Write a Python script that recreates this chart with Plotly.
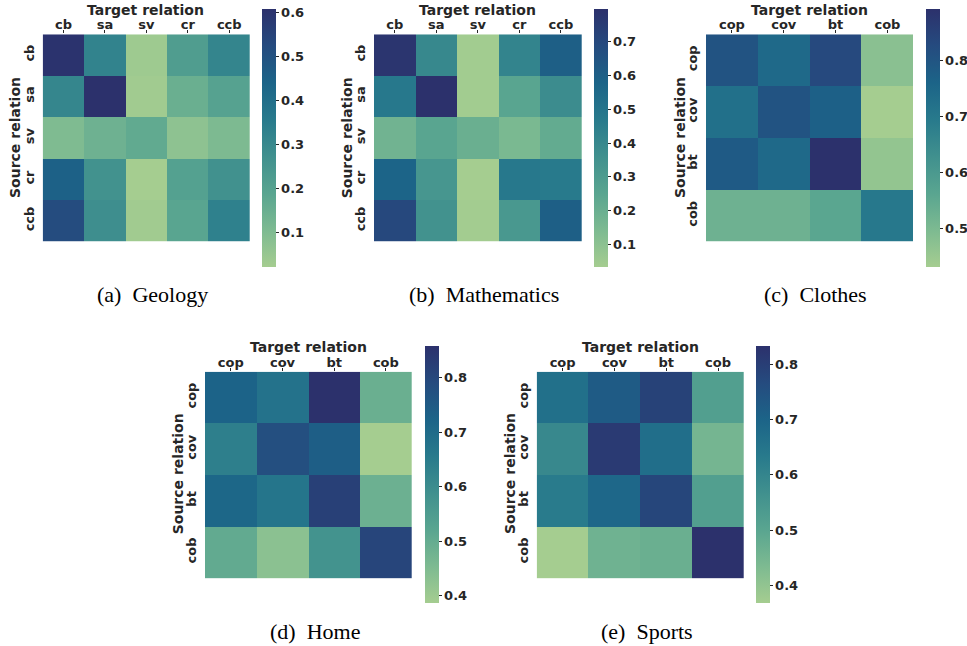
import plotly.graph_objects as go

# ---------------- data ----------------
rel5 = ["cb", "sa", "sv", "cr", "ccb"]
rel4 = ["cop", "cov", "bt", "cob"]

geology = [
    [0.600, 0.320, 0.035, 0.220, 0.315],
    [0.310, 0.607, 0.030, 0.150, 0.200],
    [0.100, 0.140, 0.170, 0.070, 0.105],
    [0.450, 0.265, 0.021, 0.205, 0.270],
    [0.520, 0.280, 0.030, 0.190, 0.330],
]
mathematics = [
    [0.780, 0.400, 0.040, 0.420, 0.600],
    [0.480, 0.797, 0.040, 0.250, 0.380],
    [0.180, 0.250, 0.200, 0.150, 0.220],
    [0.580, 0.330, 0.033, 0.480, 0.470],
    [0.700, 0.350, 0.038, 0.320, 0.600],
]
clothes = [
    [0.805, 0.745, 0.830, 0.475],
    [0.725, 0.805, 0.770, 0.431],
    [0.785, 0.745, 0.891, 0.460],
    [0.525, 0.525, 0.560, 0.700],
]
home = [
    [0.725, 0.680, 0.858, 0.490],
    [0.640, 0.780, 0.740, 0.386],
    [0.715, 0.670, 0.820, 0.485],
    [0.505, 0.430, 0.580, 0.805],
]
sports = [
    [0.665, 0.725, 0.790, 0.520],
    [0.590, 0.810, 0.670, 0.450],
    [0.630, 0.690, 0.780, 0.520],
    [0.368, 0.460, 0.470, 0.833],
]
captions = ["(a)  Geology", "(b)  Mathematics", "(c)  Clothes", "(d)  Home", "(e)  Sports"]
x_title = "Target relation"
y_title = "Source relation"

# seaborn "crest" approximation
crest = [
    [0.0, "#a5cd90"],
    [0.143, "#7dba91"],
    [0.286, "#59a590"],
    [0.429, "#40908e"],
    [0.571, "#287a8c"],
    [0.714, "#1c6488"],
    [0.857, "#254b7f"],
    [1.0, "#2c316c"],
]

W, H = 967, 646
TXT = "#262626"
SANS = "DejaVu Sans"

# panel geometry in pixels:
# heatmap (left, right, top, bottom); colorbar (left, top, bottom); caption centre;
# x-title centre; y-title centre
panels = [
    (geology, rel5, (42.7, 250.0, 34.3, 241.7), (262, 9, 267), (152.8, 295), (145.5, 10), (15, 138)),
    (mathematics, rel5, (374.0, 581.7, 34.3, 241.7), (594, 9, 267), (484, 295), (477.5, 10), (347.3, 138)),
    (clothes, rel4, (706.0, 913.3, 34.3, 241.7), (926, 9, 267), (815.8, 295), (809.5, 10), (680, 138)),
    (home, rel4, (205.0, 411.7, 371.7, 578.3), (425, 346, 603.3), (315, 631.7), (308.5, 347), (178.3, 474)),
    (sports, rel4, (536.7, 744.0, 371.7, 578.3), (756, 346, 603.3), (647, 631.7), (640.5, 347), (510, 474)),
]

fig = go.Figure()
layout = dict(
    width=W, height=H,
    margin=dict(l=0, r=0, t=0, b=0, autoexpand=False),
    paper_bgcolor="white", plot_bgcolor="white",
    font=dict(family=SANS, color=TXT),
    showlegend=False,
    annotations=[],
)

for i, (z, labels, (l, r, t, b), (cbx, cbt, cbb), (capx, capy), (xtx, xty), (ytx, yty)) in enumerate(panels):
    n = i + 1
    xa = "x" if n == 1 else f"x{n}"
    ya = "y" if n == 1 else f"y{n}"
    fig.add_trace(go.Heatmap(
        z=z, x=labels, y=labels,
        colorscale=crest,
        xaxis=xa, yaxis=ya,
        xgap=0, ygap=0,
        colorbar=dict(
            x=cbx / W, xanchor="left", xref="paper",
            y=1 - (cbt + cbb) / 2 / H, yanchor="middle", yref="paper",
            len=(cbb - cbt) / H, lenmode="fraction",
            thickness=13.5, thicknessmode="pixels",
            xpad=0, ypad=0, outlinewidth=0,
            ticks="outside", ticklen=3, tickwidth=1, tickcolor=TXT,
            dtick=0.1, tick0=0, tickformat=".1f",
            tickfont=dict(family=SANS, size=13, color=TXT, weight=700),
        ),
        hoverinfo="skip",
    ))
    xkey = "xaxis" if n == 1 else f"xaxis{n}"
    ykey = "yaxis" if n == 1 else f"yaxis{n}"
    layout[xkey] = dict(
        domain=[l / W, r / W], anchor=ya, side="top", automargin=False,
        showgrid=False, zeroline=False, showline=False,
        ticks="outside", ticklen=3, tickwidth=1, tickcolor=TXT,
        ticklabelstandoff=-4,
        tickfont=dict(family=SANS, size=13, color=TXT, weight=700),
    )
    layout[ykey] = dict(
        domain=[1 - b / H, 1 - t / H], anchor=xa, automargin=False,
        autorange="reversed",
        showgrid=False, zeroline=False, showline=False,
        ticks="outside", ticklen=3, tickcolor="rgba(0,0,0,0)", tickangle=-90,
        tickfont=dict(family=SANS, size=13, color=TXT, weight=700),
    )
    layout["annotations"].append(dict(
        x=xtx / W, y=1 - xty / H, xref="paper", yref="paper",
        xanchor="center", yanchor="middle", showarrow=False,
        text=x_title,
        font=dict(family=SANS, size=14, color=TXT, weight=700),
    ))
    layout["annotations"].append(dict(
        x=ytx / W, y=1 - yty / H, xref="paper", yref="paper",
        xanchor="center", yanchor="middle", showarrow=False, textangle=-90,
        text=y_title,
        font=dict(family=SANS, size=14, color=TXT, weight=700),
    ))
    layout["annotations"].append(dict(
        x=capx / W, y=1 - capy / H, xref="paper", yref="paper",
        xanchor="center", yanchor="middle", showarrow=False,
        text=captions[i],
        font=dict(family="Liberation Serif", size=22, color="black"),
    ))

fig.update_layout(**layout)
fig.write_html(
    "out.html",
    config={"displayModeBar": False},
    post_script="document.body.style.margin='0';document.body.style.overflow='hidden';",
)
